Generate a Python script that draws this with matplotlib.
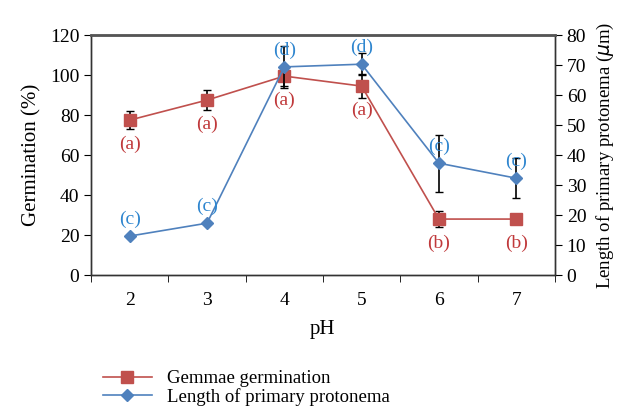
import matplotlib
matplotlib.use("Agg")
import matplotlib.pyplot as plt
import numpy as np

ph = ["2", "3", "4", "5", "6", "7"]
germination = [77.5, 87.5, 99.5, 94.5, 28.0, 28.0]
germ_err = [4.5, 5.0, 5.0, 6.0, 4.0, np.nan]
germ_labels = ["(a)", "(a)", "(a)", "(a)", "(b)", "(b)"]
protonema = [13.0, 17.3, 69.4, 70.3, 37.3, 32.3]
prot_err = [np.nan, np.nan, 7.0, 3.7, 9.5, 6.7]
prot_labels = ["(c)", "(c)", "(d)", "(d)", "(c)", "(c)"]

plt.rcParams['font.family'] = ['Liberation Serif', 'DejaVu Serif']
red = "#C0504D"
blue = "#4F81BD"
red_txt = "#C0393B"
blue_txt = "#2F86CF"

fig = plt.figure(figsize=(6.37, 4.13), dpi=100)
ax = fig.add_axes([0.143, 0.334, 0.728, 0.581])
ax2 = ax.twinx()

x = list(range(len(ph)))
ax.errorbar(x, germination, yerr=germ_err, fmt="none", ecolor="black", elinewidth=1.2, capsize=3, zorder=2)
l1, = ax.plot(x, germination, color=red, marker="s", markersize=8, lw=1.2, zorder=3)
ax2.errorbar(x, protonema, yerr=prot_err, fmt="none", ecolor="black", elinewidth=1.2, capsize=3, zorder=2)
l2, = ax2.plot(x, protonema, color=blue, marker="D", markersize=6.5, lw=1.2, zorder=3)

for xi, v, lab in zip(x, germination, germ_labels):
    ax.annotate(lab, (xi, v), xytext=(0, -11), textcoords="offset points", ha="center", va="top",
                color=red_txt, fontsize=14)
for xi, v, lab in zip(x, protonema, prot_labels):
    ax2.annotate(lab, (xi, v), xytext=(0, 6), textcoords="offset points", ha="center", va="bottom",
                 color=blue_txt, fontsize=14)

ax.set_xlim(-0.5, len(ph) - 0.5)
ax.set_ylim(0, 120)
ax2.set_ylim(0, 80)
ax.set_yticks(range(0, 121, 20))
ax2.set_yticks(range(0, 81, 10))
ax.set_xticks(x)
ax.set_xticklabels(ph)
ax.set_xticks([i - 0.5 for i in range(len(ph) + 1)], minor=True)
ax.tick_params(axis="x", which="major", length=0, labelsize=14, pad=12)
ax.tick_params(axis="x", which="minor", length=5, direction="out")
ax.tick_params(axis="y", labelsize=14, length=5)
ax2.tick_params(axis="y", labelsize=14, length=5)

for a in (ax, ax2):
    for s in a.spines.values():
        s.set_color("#333333")
        s.set_linewidth(1.0)
ax2.spines["top"].set_color("#555555")
ax2.spines["top"].set_linewidth(2)

ax.set_xlabel("pH", fontsize=15, labelpad=8)
ax.set_ylabel("Germination (%)", fontsize=15, labelpad=6)
ax2.set_ylabel(r"Length of primary protonema ($\mu$m)", fontsize=13.5, labelpad=6)

fig.legend([l1, l2], ["Gemmae germination", "Length of primary protonema"], loc="upper left",
           bbox_to_anchor=(0.135, 0.145), frameon=False, fontsize=13.5, handlelength=2.6,
           labelspacing=0.05, handletextpad=0.8)

fig.savefig("out.png", dpi=100)
